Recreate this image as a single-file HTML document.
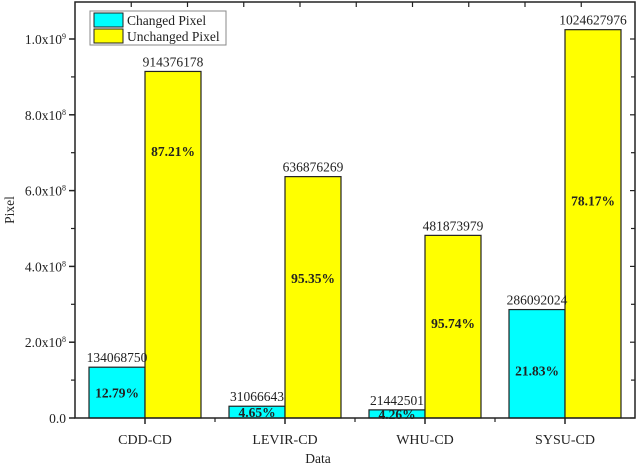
<!DOCTYPE html>
<html><head><meta charset="utf-8"><style>
body{margin:0;background:#fff;}
svg{display:block;font-family:"Liberation Serif",serif;}
</style></head><body>
<svg id="c" width="640" height="470"></svg>
<script>
const categories=["CDD-CD","LEVIR-CD","WHU-CD","SYSU-CD"];
const changed=[134068750,31066643,21442501,286092024];
const unchanged=[914376178,636876269,481873979,1024627976];
const changedPct=["12.79%","4.65%","4.26%","21.83%"];
const unchangedPct=["87.21%","95.35%","95.74%","78.17%"];
const changedLabelFrac=[0.5,0.5,0.5,0.44];
const unchangedLabelFrac=[0.77,0.58,0.52,0.56];
const yTicks=[0,2e8,4e8,6e8,8e8,1e9];
const yTickLabels=["0.0","2.0x10<tspan dy='-5' font-size='8'>8</tspan>","4.0x10<tspan dy='-5' font-size='8'>8</tspan>","6.0x10<tspan dy='-5' font-size='8'>8</tspan>","8.0x10<tspan dy='-5' font-size='8'>8</tspan>","1.0x10<tspan dy='-5' font-size='8'>9</tspan>"];

const L=75,R=635,T=2,B=418;
const y=v=>B-v*(B-39)/1e9;
const xc=i=>L+70+140*i;
const bw=56;
const svg=document.getElementById('c');
const NS='http://www.w3.org/2000/svg';
function mk(tag,attrs,name){const e=document.createElementNS(NS,tag);for(const k in attrs)e.setAttribute(k,attrs[k]);


svg.appendChild(e);return e;}
function txt(x,yy,s,name,extra){const e=mk('text',Object.assign({x:x,y:yy,'font-size':13.5,'text-anchor':'middle',fill:'#222'},extra||{}),name);e.innerHTML=s;return e;}

categories.forEach((c,i)=>{
  const x0=xc(i)-bw, x1=xc(i);
  mk('rect',{x:x0,y:y(changed[i]),width:bw,height:B-y(changed[i]),fill:'#00ffff',stroke:'#222','stroke-width':1.2},'bar-changed-'+c.toLowerCase());
  mk('rect',{x:x1,y:y(unchanged[i]),width:bw,height:B-y(unchanged[i]),fill:'#ffff00',stroke:'#222','stroke-width':1.2},'bar-unchanged-'+c.toLowerCase());
  txt(x0+bw/2,y(changed[i])-5,changed[i],'value-label-changed');
  txt(x1+bw/2,y(unchanged[i])-5,unchanged[i],'value-label-unchanged');
  txt(x0+bw/2,y(changed[i]*changedLabelFrac[i])+5,changedPct[i],'pct-label-changed',{'font-weight':'bold'});
  txt(x1+bw/2,y(unchanged[i]*unchangedLabelFrac[i])+5,unchangedPct[i],'pct-label-unchanged',{'font-weight':'bold'});
  txt(xc(i),444,c,'x-tick-label',{'font-size':14});
  mk('line',{x1:xc(i),x2:xc(i),y1:B,y2:B+6,stroke:'#222','stroke-width':1.5},'x-tick');
  if(i<3)mk('line',{x1:xc(i)+70,x2:xc(i)+70,y1:B,y2:B+4,stroke:'#222','stroke-width':1.2},'x-minor-tick');
});
mk('rect',{x:L,y:T,width:R-L,height:B-T,fill:'none',stroke:'#222','stroke-width':1.5},'plot-frame');
yTicks.forEach((v,i)=>{
  mk('line',{x1:L-6,x2:L,y1:y(v),y2:y(v),stroke:'#222','stroke-width':1.5},'y-tick');
  mk('line',{x1:R-5,x2:R,y1:y(v),y2:y(v),stroke:'#222','stroke-width':1.2},'y-tick-right');
  txt(L-9,y(v)+5,yTickLabels[i],'y-tick-label',{'text-anchor':'end'});
  const mv=v+1e8; if(y(mv)>T){
    mk('line',{x1:L-4,x2:L,y1:y(mv),y2:y(mv),stroke:'#222','stroke-width':1.2},'y-minor-tick');
    mk('line',{x1:R-4,x2:R,y1:y(mv),y2:y(mv),stroke:'#222','stroke-width':1.2},'y-minor-tick-right');}
});
for(let k=1;k<10;k++){const xx=L+56.25*k;mk('line',{x1:xx,x2:xx,y1:T,y2:T+5,stroke:'#222','stroke-width':1.2},'top-tick');}
txt(318,463,'Data','x-axis-title');
txt(14,210,'Pixel','y-axis-title',{transform:'rotate(-90 14 210)'});
mk('rect',{x:90,y:11,width:136,height:34,fill:'#fff',stroke:'#888','stroke-width':1},'legend');
mk('rect',{x:94,y:13,width:29,height:14,fill:'#00ffff',stroke:'#222'},'legend-swatch-changed');
mk('rect',{x:94,y:29,width:29,height:14,fill:'#ffff00',stroke:'#222'},'legend-swatch-unchanged');
txt(127,25,'Changed Pixel','legend-entry-changed',{'text-anchor':'start'});
txt(127,41,'Unchanged Pixel','legend-entry-unchanged',{'text-anchor':'start'});
</script>
</body></html>
